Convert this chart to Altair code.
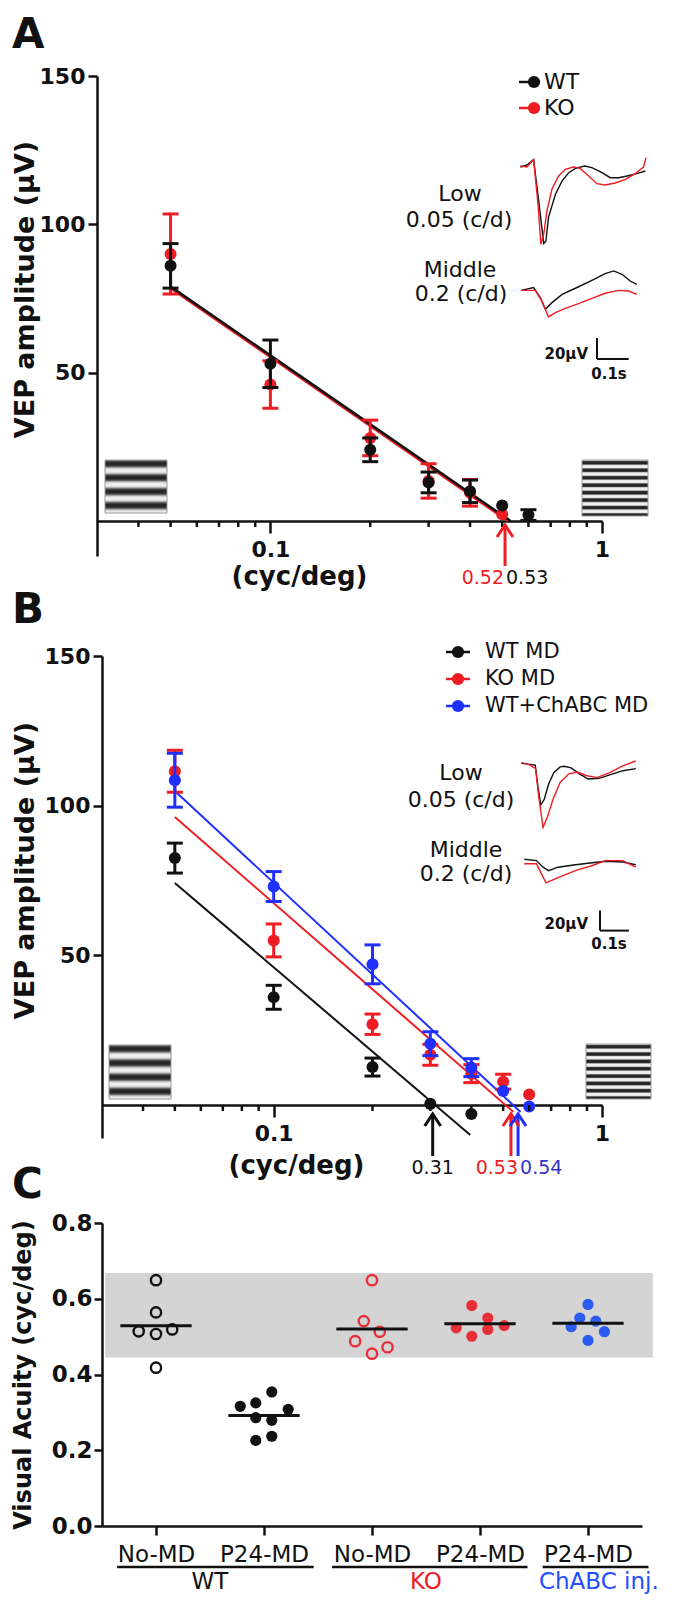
import math
import altair as alt
import pandas as pd

# ---------------- Panel A data (non-deprived) ----------------
a_freq_wt = [0.05, 0.1, 0.2, 0.3, 0.4, 0.5, 0.6]
a_amp_wt = [86.0, 53.0, 24.0, 13.0, 10.0, 5.2, 2.0]
a_sem_wt = [7.5, 8.0, 4.0, 3.5, 3.8, 0.0, 1.8]
a_freq_ko = [0.05, 0.1, 0.2, 0.3, 0.4, 0.5]
a_amp_ko = [90.0, 46.0, 28.0, 13.5, 9.5, 2.3]
a_sem_ko = [13.5, 8.0, 6.0, 5.8, 4.5, 0.0]
a_fit_wt_f = [0.05, 0.53]
a_fit_wt_v = [79.0, 0.0]
a_fit_ko_f = [0.05, 0.52]
a_fit_ko_v = [78.5, 0.0]
a_arrow_f = [0.51]
a_acuity_text = ["0.52", "0.53"]

# VEP traces panel A (time s, amplitude uV)
a_low_wt_t = [0, .021, .042, .058, .074, .081, .089, .111, .132, .153, .174, .203, .226, .258, .284, .311, .337, .368, .395]
a_low_wt_v = [0, 1.9, 7.0, -32, -73, -70.5, -48, -26, -13.3, -5.4, -1.3, 1, -0.6, -5.4, -10.2, -10.2, -8.6, -6.3, -3.8]
a_low_ko_t = [0, .021, .042, .056, .065, .074, .084, .1, .121, .142, .168, .189, .216, .242, .268, .3, .332, .363, .389, .397]
a_low_ko_v = [1, 0, 7, -35.6, -73.7, -64, -42, -21, -8.6, -2.2, 0, -1.3, -8.6, -15.9, -17.1, -15.2, -11.7, -6.3, 0, 8.9]
a_mid_wt_t = [.003, .042, .063, .079, .1, .132, .174, .226, .268, .295, .321, .347, .368]
a_mid_wt_v = [-1, 1.6, -7.9, -19, -12.7, -4.8, 1, 8.6, 14.9, 17.5, 14.3, 7.9, 4.8]
a_mid_ko_t = [.003, .047, .068, .089, .111, .142, .184, .226, .268, .311, .342, .368]
a_mid_ko_v = [-1, -1, -11, -26.3, -22.2, -18.1, -13.7, -8.6, -3.8, -1, -1.6, -4.8]

# ---------------- Panel B data (after MD) ----------------
b_freq = [0.05, 0.1, 0.2, 0.3, 0.4, 0.5, 0.6]
b_amp_wt = [82.5, 36.0, 12.7, 0.4, -3.0]
b_sem_wt = [5.0, 4.0, 3.0, 0.0, 0.0]
b_amp_ko = [111.5, 55.0, 27.0, 16.8, 10.5, 7.8, 3.5]
b_sem_ko = [7.0, 5.5, 3.4, 3.5, 3.0, 2.5, 0.0]
b_amp_ch = [108.5, 73.0, 47.0, 20.5, 12.5, 4.7, -0.5]
b_sem_ch = [9.0, 5.0, 6.5, 4.0, 3.0, 0.0, 0.0]
b_fit_wt_f = [0.05, 0.397]
b_fit_wt_v = [74.2, -10.0]
b_fit_ko_f = [0.05, 0.537]
b_fit_ko_v = [96.2, -2.3]
b_fit_ch_f = [0.05, 0.565]
b_fit_ch_v = [104.9, -2.3]
b_arrow_f = [0.305, 0.528, 0.555]
b_acuity_text = ["0.31", "0.53", "0.54"]

b_low_wt_t = [0, .03, .048, .057, .067, .079, .094, .112, .134, .149, .172, .201, .231, .269, .306, .351, .396]
b_low_wt_v = [0, -1, -1.7, -22.5, -41.5, -36, -20.8, -9.3, -3.5, -2.8, -4.5, -10.4, -15.6, -14.9, -11.4, -7.3, -5.2]
b_low_ko_t = [0, .03, .049, .06, .075, .09, .109, .134, .164, .194, .224, .261, .306, .351, .396]
b_low_ko_v = [1, -1.7, -5.2, -32.9, -64, -53.6, -36.3, -19, -10.4, -8.7, -12.1, -14.2, -9.3, -2.4, 2.4]
b_mid_wt_t = [.01, .052, .075, .094, .127, .187, .246, .291, .351, .396]
b_mid_wt_v = [1, -0.3, -6.9, -10.4, -6.9, -4.5, -2.4, -1, -1.7, -4.5]
b_mid_ko_t = [.01, .052, .07, .085, .127, .187, .246, .291, .351, .396]
b_mid_ko_v = [-3.5, -3.5, -13.8, -22.5, -17.3, -10.4, -5.2, -0.3, -0.3, -6.9]

# ---------------- Panel C data (visual acuity) ----------------
c_categories = ["No-MD", "P24-MD", "No-MD", "P24-MD", "P24-MD"]
c_values = [
    [0.649, 0.564, 0.514, 0.507, 0.519, 0.418],
    [0.316, 0.325, 0.354, 0.308, 0.286, 0.279, 0.226, 0.237],
    [0.649, 0.541, 0.513, 0.488, 0.472, 0.455],
    [0.582, 0.549, 0.523, 0.519, 0.529, 0.501],
    [0.585, 0.549, 0.541, 0.526, 0.513, 0.490],
]
c_jitter = [
    [0, 0, -0.16, 0, 0.15, 0],
    [-0.22, -0.076, 0.072, 0.224, -0.076, 0.072, -0.076, 0.072],
    [0, -0.076, 0.072, -0.156, 0.144, 0],
    [-0.076, 0.072, -0.22, 0.072, 0.224, -0.076],
    [0, -0.076, 0.072, -0.156, 0.152, 0],
]
c_medians = [0.529, 0.292, 0.520, 0.534, 0.535]
c_band = [0.445, 0.668]
c_genotypes = ["WT", "KO", "ChABC inj."]

# ---------------- styling ----------------
FONT = "DejaVu Sans"
INK = "#111111"
RED = "#ee1d23"
BLUE = "#1f2fff"
C_RED = "#e8303a"
C_BLUE = "#2a5cf0"
B_LBL_BLUE = "#3434c4"
CHEVRON = "M-1,1.5L0,0L1,1.5"


def one():
    return pd.DataFrame({"k": [0]})


def label(text, x, y, size, color=INK, weight="normal", align="center", baseline="middle"):
    return alt.Chart(one()).mark_text(
        text=text, fontSize=size, fontWeight=weight, color=color,
        align=align, baseline=baseline, font=FONT
    ).encode(x=alt.value(x), y=alt.value(y))


def grating(x0, x1, y0, y1, n, phase, sharp):
    stops = []
    N = 80
    for i in range(N + 1):
        o = i / N
        c = math.cos(2 * math.pi * (o * n - phase))
        s = math.tanh(sharp * c) / math.tanh(sharp)
        g = int(round(35 + (0.5 + 0.5 * s) * (240 - 35)))
        stops.append({"offset": o, "color": f"#{g:02x}{g:02x}{g:02x}"})
    fill = {"gradient": "linear", "x1": 0, "y1": 0, "x2": 0, "y2": 1, "stops": stops}
    return alt.Chart(one()).mark_rect(fill=fill, stroke="#9a9a9a", strokeWidth=1).encode(
        x=alt.value(x0), x2=alt.value(x1), y=alt.value(y0), y2=alt.value(y1))


def trace_layer(traces, x0px, pps, base_px, ppv, vdom, bar=None):
    rows = []
    for k, (ts, vs, col) in enumerate(traces):
        for t, v in zip(ts, vs):
            rows.append({"t": t, "v": v, "s": k, "col": col})
    df = pd.DataFrame(rows)
    sx = alt.Scale(domain=[0, 0.4], range=[x0px, x0px + 0.4 * pps], nice=False, zero=False)
    sy = alt.Scale(domain=vdom, range=[base_px - vdom[0] * ppv, base_px - vdom[1] * ppv],
                   nice=False, zero=False)
    X = lambda f: alt.X(f, type="quantitative", scale=sx, axis=None)
    Y = lambda f: alt.Y(f, type="quantitative", scale=sy, axis=None)
    layers = [alt.Chart(df).mark_line(strokeWidth=1.4).encode(
        x=X("t"), y=Y("v"), color=alt.Color("col:N", scale=None), detail="s:N")]
    if bar is not None:
        bx, by = bar
        t0 = (bx - x0px) / pps
        vb = (base_px - by) / ppv
        sb = pd.DataFrame({"t": [t0], "t2": [t0 + 0.1], "v": [vb], "v2": [vb + 20]})
        layers.append(alt.Chart(sb).mark_rule(color=INK, strokeWidth=2).encode(
            x=X("t"), y=Y("v"), y2="v2"))
        layers.append(alt.Chart(sb).mark_rule(color=INK, strokeWidth=2).encode(
            x=X("t"), x2="t2", y=Y("v")))
    return alt.layer(*layers)


def vep_panel(p):
    xs_kw = dict(type="log", domain=[0.03, 1.0], nice=False)
    if "xrange" in p:
        xs_kw["range"] = p["xrange"]
    ys_kw = dict(domain=p["ydom"], nice=False, zero=False)
    if "yrange" in p:
        ys_kw["range"] = p["yrange"]
    xaxis = alt.Axis(values=[0.1, 1], format="~g", offset=p["xoff"], title="(cyc/deg)",
                     titleX=p["tx"], titleY=p["ty"], titleBaseline="middle", titleAlign="center",
                     titleFontSize=26, titleFontWeight="bold", labelFontSize=22,
                     labelFontWeight="bold", labelFlush=False, tickSize=12, tickWidth=2.5,
                     domainWidth=2.5, labelPadding=6)
    yaxis = alt.Axis(values=[50, 100, 150], offset=p["yoff"], title="VEP amplitude (μV)",
                     titleX=p["ytx"], titleY=p["yty"], titleBaseline="alphabetic",
                     titleAlign="center", titleAngle=270, titleFontSize=27,
                     titleFontWeight="bold", labelFontSize=22, labelFontWeight="bold",
                     labelFlush=False, tickSize=9, tickWidth=2.5, domainWidth=2.5,
                     labelPadding=3)
    X = lambda f: alt.X(f, type="quantitative", scale=alt.Scale(**xs_kw), axis=xaxis)
    Y = lambda f: alt.Y(f, type="quantitative", scale=alt.Scale(**ys_kw), axis=yaxis)

    layers = []
    # grating icons
    for g in p["gratings"]:
        layers.append(grating(*g))
    # fits
    for (ff, fv, col, w) in p["fits"]:
        df = pd.DataFrame({"f": ff, "v": fv})
        layers.append(alt.Chart(df).mark_line(color=col, strokeWidth=w).encode(x=X("f"), y=Y("v")))
    # series with error bars
    for (ff, mv, sv, col) in p["series"]:
        n = len(mv)
        df = pd.DataFrame({"f": ff[:n], "v": mv, "lo": [m - s for m, s in zip(mv, sv)],
                           "hi": [m + s for m, s in zip(mv, sv)], "s": sv})
        dfe = df[df["s"] > 0]
        layers.append(alt.Chart(dfe).mark_rule(color=col, strokeWidth=3).encode(
            x=X("f"), y=Y("lo"), y2="hi"))
        for end in ("lo", "hi"):
            layers.append(alt.Chart(dfe).mark_tick(orient="horizontal", size=16, thickness=3,
                                                   color=col, opacity=1).encode(x=X("f"), y=Y(end)))
        layers.append(alt.Chart(df).mark_circle(size=145, color=col, opacity=1).encode(
            x=X("f"), y=Y("v")))
    # minor ticks on the x axis
    minor = pd.DataFrame({"f": [0.04, 0.05, 0.06, 0.07, 0.08, 0.09, 0.2, 0.3, 0.4, 0.5, 0.6, 0.7, 0.8, 0.9]})
    layers.append(alt.Chart(minor).mark_rule(color=INK, strokeWidth=2.5).encode(
        x=X("f"), y=alt.value(p["axis_px"]), y2=alt.value(p["axis_px"] + 6)))
    # acuity arrows
    adf = pd.DataFrame({"f": p["arrows"], "col": p["arrow_cols"]})
    layers.append(alt.Chart(adf).mark_rule(strokeWidth=3).encode(
        x=X("f"), y=alt.value(p["arrow_y"][0]), y2=alt.value(p["arrow_y"][1]),
        color=alt.Color("col:N", scale=None)))
    layers.append(alt.Chart(adf).mark_point(shape=CHEVRON, size=256, filled=False, strokeWidth=3,
                                            opacity=1).encode(
        x=X("f"), y=alt.value(p["arrow_y"][0]), color=alt.Color("col:N", scale=None)))
    for (f, txt, col, align, dx) in p["arrow_labels"]:
        ldf = pd.DataFrame({"f": [f], "txt": [txt]})
        layers.append(alt.Chart(ldf).mark_text(fontSize=19, align=align, dx=dx, color=col,
                                               baseline="middle", font=FONT).encode(
            x=X("f"), y=alt.value(p["arrow_label_y"]), text="txt:N"))
    # panel letter
    layers.append(label(p["letter"], -85, p["letter_y"], 42, weight="bold", align="left",
                        baseline="alphabetic"))
    # legend
    lx0, lx1, lcx, ltx = p["legend_x"]
    for i, (name, col) in enumerate(p["legend"]):
        ly = p["legend_y"][i]
        layers.append(alt.Chart(one()).mark_rule(color=col, strokeWidth=2.5).encode(
            x=alt.value(lx0), x2=alt.value(lx1), y=alt.value(ly)))
        layers.append(alt.Chart(one()).mark_circle(color=col, size=150, opacity=1).encode(
            x=alt.value(lcx), y=alt.value(ly)))
        layers.append(label(name, ltx, ly, p["legend_size"], align="left"))
    # inset labels
    for (t, x, y) in p["inset_text"]:
        layers.append(label(t, x, y, 22))
    sbx, sby1, sby2 = p["sb_text"]
    layers.append(label("20μV", sbx, sby1, 15, weight="bold", align="right"))
    layers.append(label("0.1s", sbx + 21, sby2, 15, weight="bold"))

    main = alt.layer(*layers)
    tr = p["traces"]
    low = trace_layer(tr["low"], tr["x0"], tr["pps"], tr["low_base"], tr["ppv"], tr["low_dom"])
    mid = trace_layer(tr["mid"], tr["x0"], tr["pps"], tr["mid_base"], tr["ppv"], tr["mid_dom"],
                      bar=tr["bar"])
    return alt.layer(main, low, mid).resolve_scale(x="independent", y="independent").properties(
        width=p["W"], height=p["H"])


panel_a = vep_panel({
    "W": 505, "H": 480, "ydom": [-11.8, 150], "xoff": -35, "yoff": 0,
    "tx": 202, "ty": 55, "ytx": -64, "yty": 213, "axis_px": 445,
    "gratings": [(8, 70, 384, 437, 3.8, -0.234, 1.2), (485, 551, 384, 440, 7.5, -0.125, 2.5)],
    "fits": [(a_fit_ko_f, a_fit_ko_v, RED, 2.5), (a_fit_wt_f, a_fit_wt_v, INK, 2.5)],
    "series": [(a_freq_ko, a_amp_ko, a_sem_ko, RED), (a_freq_wt, a_amp_wt, a_sem_wt, INK)],
    "arrows": a_arrow_f, "arrow_cols": [RED], "arrow_y": (449, 490),
    "arrow_labels": [(a_arrow_f[0], a_acuity_text[0], RED, "right", -1),
                     (a_arrow_f[0], a_acuity_text[1], INK, "left", 1)],
    "arrow_label_y": 502,
    "letter": "A", "letter_y": -28,
    "legend": [("WT", INK), ("KO", RED)], "legend_x": (422, 443, 437, 447), "legend_y": [6, 32],
    "legend_size": 22,
    "inset_text": [("Low", 363, 118), ("0.05 (c/d)", 362, 144), ("Middle", 363, 194),
                   ("0.2 (c/d)", 364, 218)],
    "sb_text": (491, 278, 298),
    "traces": {"x0": 423.3, "pps": 316.7, "ppv": 1.05,
               "low": [(a_low_wt_t, a_low_wt_v, INK), (a_low_ko_t, a_low_ko_v, RED)],
               "mid": [(a_mid_wt_t, a_mid_wt_v, INK), (a_mid_ko_t, a_mid_ko_v, RED)],
               "low_base": 91, "mid_base": 213.3, "low_dom": [-80, 15], "mid_dom": [-75, 25],
               "bar": (500, 283)},
})

panel_b = vep_panel({
    "W": 505, "H": 497, "ydom": [-11, 150], "xrange": [5, 505], "yrange": [497, 15],
    "xoff": -33, "yoff": -5,
    "tx": 199, "ty": 60, "ytx": -69, "yty": 229, "axis_px": 464,
    "gratings": [(12, 74, 404, 458, 3.8, -0.234, 1.2), (489, 554, 403, 458, 7.5, -0.125, 2.5)],
    "fits": [(b_fit_wt_f, b_fit_wt_v, INK, 2), (b_fit_ko_f, b_fit_ko_v, RED, 2),
             (b_fit_ch_f, b_fit_ch_v, BLUE, 2)],
    "series": [(b_freq, b_amp_wt, b_sem_wt, INK), (b_freq, b_amp_ko, b_sem_ko, RED),
               (b_freq, b_amp_ch, b_sem_ch, BLUE)],
    "arrows": b_arrow_f, "arrow_cols": [INK, RED, BLUE], "arrow_y": (473, 515),
    "arrow_labels": [(b_arrow_f[0], b_acuity_text[0], INK, "center", 0),
                     (b_arrow_f[2], b_acuity_text[1], RED, "right", 0),
                     (b_arrow_f[2], b_acuity_text[2], B_LBL_BLUE, "left", 2)],
    "arrow_label_y": 527,
    "letter": "B", "letter_y": -18,
    "legend": [("WT MD", INK), ("KO MD", RED), ("WT+ChABC MD", BLUE)],
    "legend_x": (349, 373, 361, 388), "legend_y": [11, 38, 65], "legend_size": 21,
    "inset_text": [("Low", 364, 132), ("0.05 (c/d)", 364, 159), ("Middle", 369, 209),
                   ("0.2 (c/d)", 369, 233)],
    "sb_text": (491, 283, 303),
    "traces": {"x0": 424.4, "pps": 288.8, "ppv": 1.0,
               "low": [(b_low_wt_t, b_low_wt_v, INK), (b_low_ko_t, b_low_ko_v, RED)],
               "mid": [(b_mid_wt_t, b_mid_wt_v, INK), (b_mid_ko_t, b_mid_ko_v, RED)],
               "low_base": 122.4, "mid_base": 219.3, "low_dom": [-70, 15], "mid_dom": [-75, 15],
               "bar": (503, 289.6)},
})

# ---------------- Panel C ----------------
label_expr = "[" + ",".join("'" + c + "'" for c in c_categories) + "][datum.value]"
cx = alt.Scale(domain=[-0.5, 4.5], range=[5, 545], nice=False, zero=False)
cy = alt.Scale(domain=[0, 0.8], nice=False, zero=False)
cxaxis = alt.Axis(values=[0, 1, 2, 3, 4], labelExpr=label_expr, title=None, tickSize=9,
                  tickWidth=2.5, domainWidth=2.5, labelFontSize=23, labelFontWeight="normal",
                  labelPadding=8, labelFlush=False)
cyaxis = alt.Axis(values=[0, 0.2, 0.4, 0.6, 0.8], format=".1f", offset=-5,
                  title="Visual Acuity (cyc/deg)", titleX=-72, titleBaseline="alphabetic",
                  titleAlign="center", titleAngle=270, titleFontSize=24, titleFontWeight="bold",
                  labelFontSize=23, labelFontWeight="bold", labelFlush=False, tickSize=8,
                  tickWidth=2.5, domainWidth=2.5, labelPadding=2)
CX = lambda f: alt.X(f, type="quantitative", scale=cx, axis=cxaxis)
CY = lambda f: alt.Y(f, type="quantitative", scale=cy, axis=cyaxis)

c_colors = [INK, INK, C_RED, C_RED, C_BLUE]
c_open = [True, False, True, False, False]
rows = []
for gi, (vals, jit) in enumerate(zip(c_values, c_jitter)):
    for v, j in zip(vals, jit):
        rows.append({"xi": gi + j, "v": v, "col": c_colors[gi], "open": c_open[gi]})
cpts = pd.DataFrame(rows)
band_df = pd.DataFrame({"x0": [-0.47], "x1": [4.6], "y0": [c_band[0]], "y1": [c_band[1]]})
med_df = pd.DataFrame({"x0": [i - 0.33 for i in range(5)], "x1": [i + 0.33 for i in range(5)],
                       "v": c_medians})
geno_df = pd.DataFrame({"x0": [-0.36, 1.63, 3.58], "x1": [1.46, 3.44, 4.56],
                        "xc": [0.5, 2.5, 4.1], "label": c_genotypes,
                        "col": [INK, "#ee1c25", "#1f4fff"]})

c_layers = [
    alt.Chart(band_df).mark_rect(color="#d4d4d4").encode(x=CX("x0"), x2="x1", y=CY("y0"), y2="y1"),
    alt.Chart(cpts[cpts["open"]]).mark_point(filled=False, strokeWidth=2.4, size=105, opacity=1).encode(
        x=CX("xi"), y=CY("v"), color=alt.Color("col:N", scale=None)),
    alt.Chart(cpts[~cpts["open"]]).mark_circle(size=125, opacity=1).encode(
        x=CX("xi"), y=CY("v"), color=alt.Color("col:N", scale=None)),
    alt.Chart(med_df).mark_rule(color=INK, strokeWidth=3).encode(x=CX("x0"), x2="x1", y=CY("v")),
    alt.Chart(geno_df).mark_rule(color=INK, strokeWidth=2.5).encode(
        x=CX("x0"), x2="x1", y=alt.value(344)),
    alt.Chart(geno_df).mark_text(fontSize=23, baseline="middle", font=FONT).encode(
        x=CX("xc"), y=alt.value(359), text="label:N", color=alt.Color("col:N", scale=None)),
    label("C", -85, -25, 42, weight="bold", align="left", baseline="alphabetic"),
]
panel_c = alt.layer(*c_layers).properties(width=545, height=303)

chart = alt.vconcat(panel_a, panel_b, panel_c, spacing=85, bounds="flush",
                    padding={"top": 6, "left": 2, "right": 0, "bottom": 0}).configure(
    font=FONT).configure_view(stroke=None).configure_axis(
    grid=False, domainColor=INK, tickColor=INK, labelColor=INK, titleColor=INK,
    labelFont=FONT, titleFont=FONT)

chart.save("out.html", embed_options={"renderer": "svg", "actions": False})
